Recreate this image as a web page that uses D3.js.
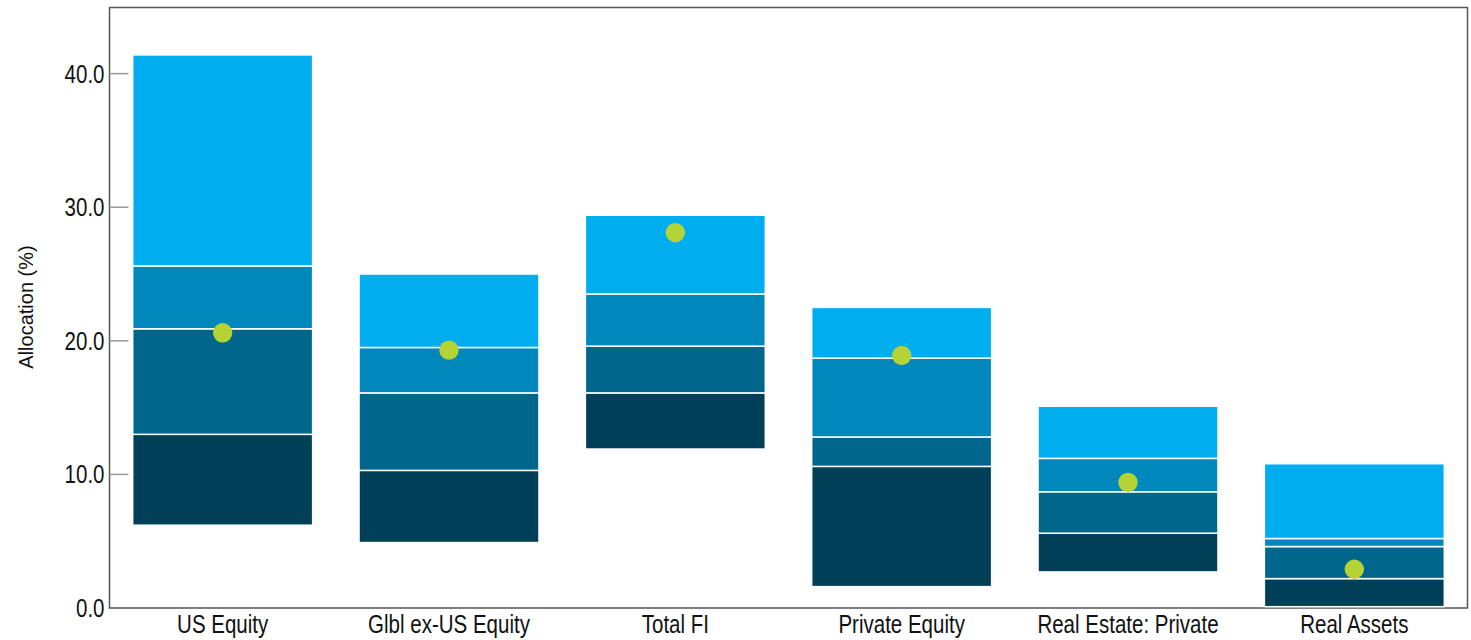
<!DOCTYPE html>
<html>
<head>
<meta charset="utf-8">
<script src="https://cdn.jsdelivr.net/npm/d3@7"></script>
<style>
  html, body { margin: 0; padding: 0; background: #fff; }
  svg { display: block; }
  .lbl { font-family: "Liberation Sans", Arial, sans-serif; }
</style>
</head>
<body>
<svg id="chart" width="1471" height="640"></svg>
<script>
// ---- data ----
const categories = ["US Equity", "Glbl ex-US Equity", "Total FI", "Private Equity", "Real Estate: Private", "Real Assets"];
// range boundaries (percentiles), bottom -> top
const p95 = [6.2, 4.9, 11.9, 1.6, 2.7, 0.1];
const p75 = [13.0, 10.3, 16.1, 10.6, 5.6, 2.2];
const p50 = [20.9, 16.1, 19.6, 12.8, 8.7, 4.6];
const p25 = [25.6, 19.5, 23.5, 18.7, 11.2, 5.2];
const p5  = [41.4, 25.0, 29.4, 22.5, 15.1, 10.8];
const fundValue = [20.6, 19.3, 28.1, 18.9, 9.4, 2.9];
const yTicks = [0, 10, 20, 30, 40];
const yLabel = "Allocation (%)";
const bandColors = ["#003f58", "#00668c", "#0088bd", "#00adee"];

// ---- layout ----
const svg = d3.select("#chart");
const mLeft = 109.5, mRight = 1467.5, mTop = 7.5, mBottom = 608;
const narrow = 0.82;

const x = d3.scaleBand().domain(categories).range([mLeft, mRight]).paddingInner(0.205).paddingOuter(0.1025);
const y = d3.scaleLinear().domain([0, 44.95]).range([mBottom, mTop]);

// frame
svg.append("rect")
  .attr("x", mLeft).attr("y", mTop)
  .attr("width", mRight - mLeft).attr("height", mBottom - mTop)
  .attr("fill", "none").attr("stroke", "#555").attr("stroke-width", 1.5);

// bars
const rows = categories.map((c, i) => {
  const b = [p95[i], p75[i], p50[i], p25[i], p5[i]];
  return { c, segs: [0, 1, 2, 3].map(k => ({ lo: b[k], hi: b[k + 1], k })) };
});

const g = svg.append("g");
rows.forEach(r => {
  g.selectAll(null).data(r.segs).enter().append("rect")
    .attr("x", x(r.c))
    .attr("width", x.bandwidth())
    .attr("y", d => y(d.hi))
    .attr("height", d => y(d.lo) - y(d.hi))
    .attr("fill", d => bandColors[d.k])
    .attr("stroke", "#ffffff")
    .attr("stroke-width", 1.5);
});

// dots
svg.append("g").selectAll("circle").data(categories).enter().append("circle")
  .attr("cx", d => x(d) + x.bandwidth() / 2)
  .attr("cy", (d, i) => y(fundValue[i]))
  .attr("r", 9.7)
  .attr("fill", "#b5d334");

// y axis ticks (inside) and labels
const yAxis = svg.append("g");
yAxis.selectAll("line").data(yTicks.filter(t => t > 0)).enter().append("line")
  .attr("x1", mLeft).attr("x2", mLeft + 19)
  .attr("y1", d => y(d)).attr("y2", d => y(d))
  .attr("stroke", "#999").attr("stroke-width", 1.5);
yAxis.selectAll("g").data(yTicks).enter().append("g")
  .attr("transform", d => `translate(${mLeft - 5}, ${y(d)}) scale(${narrow},1)`)
  .append("text")
  .attr("class", "lbl")
  .attr("dy", "0.36em")
  .attr("text-anchor", "end")
  .attr("font-size", 25)
  .attr("fill", "#111")
  .text(d => d3.format(".1f")(d));

// x labels
svg.append("g").selectAll("g").data(categories).enter().append("g")
  .attr("transform", d => `translate(${x(d) + x.bandwidth() / 2}, ${mBottom + 25}) scale(${narrow},1)`)
  .append("text")
  .attr("class", "lbl")
  .attr("text-anchor", "middle")
  .attr("font-size", 25)
  .attr("fill", "#111")
  .text(d => d);

// y label
svg.append("text")
  .attr("class", "lbl")
  .attr("transform", `translate(33, ${(245 + 369) / 2}) rotate(-90)`)
  .attr("text-anchor", "middle")
  .attr("font-size", 20)
  .attr("fill", "#111")
  .text(yLabel);
</script>
</body>
</html>
